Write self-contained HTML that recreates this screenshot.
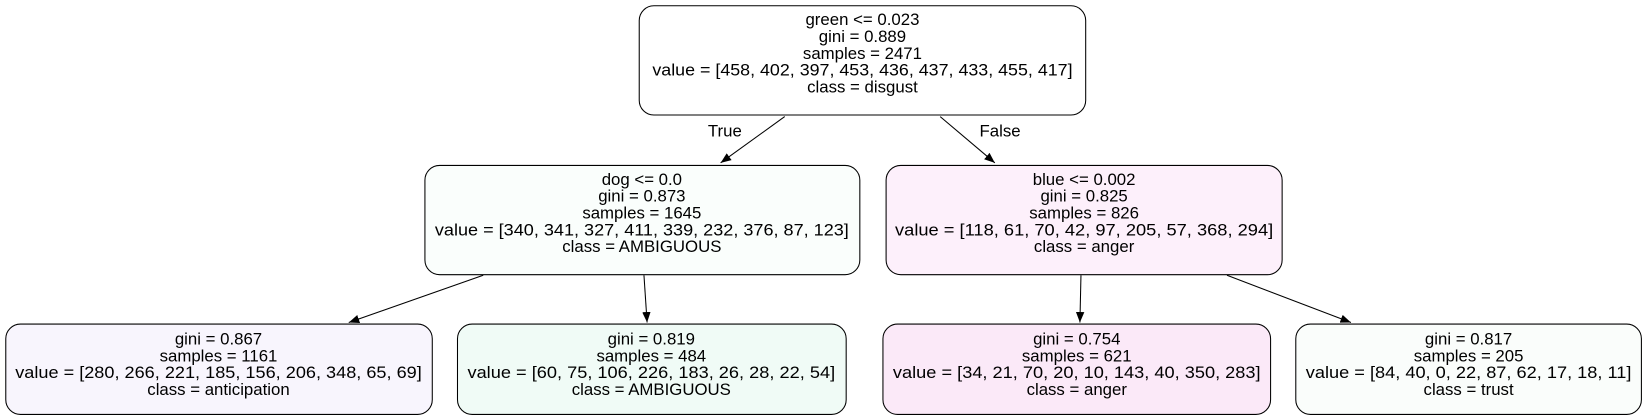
<!DOCTYPE html>
<html><head><meta charset="utf-8"><style>
html,body{margin:0;padding:0;background:#fff;}
svg{display:block;}
text{font-family:"Liberation Sans",Arial,sans-serif;font-size:16px;fill:#000;text-anchor:middle;}
</style></head><body>
<svg width="1644" height="419" viewBox="0 0 1644 419">
<defs><marker id="ah" markerWidth="10" markerHeight="8" refX="10" refY="4" orient="auto" markerUnits="userSpaceOnUse"><path d="M0,0 L10,4 L0,8 z" fill="#000"/></marker></defs>
<g transform="scale(1.0505)">
<g stroke="#000" stroke-width="1" fill="none">
<line x1="747" y1="111" x2="686" y2="155" marker-end="url(#ah)"/>
<line x1="895" y1="111" x2="947" y2="155" marker-end="url(#ah)"/>
<line x1="460" y1="262" x2="332" y2="307" marker-end="url(#ah)"/>
<line x1="613" y1="262" x2="616" y2="307" marker-end="url(#ah)"/>
<line x1="1029" y1="262" x2="1028" y2="307" marker-end="url(#ah)"/>
<line x1="1168" y1="262" x2="1286" y2="307" marker-end="url(#ah)"/>
</g>
<text x="690" y="130">True</text>
<text x="952" y="130">False</text>

<g>
<rect x="608.5" y="5.5" width="425" height="104" rx="14" fill="#ffffff" stroke="#000"/>
<text x="821" y="24">green &lt;= 0.023</text>
<text x="821" y="40">gini = 0.889</text>
<text x="821" y="56">samples = 2471</text>
<text x="821" y="72" textLength="400" lengthAdjust="spacingAndGlyphs">value = [458, 402, 397, 453, 436, 437, 433, 455, 417]</text>
<text x="821" y="88">class = disgust</text>
</g>

<g>
<rect x="404.5" y="157.5" width="414" height="104" rx="14" fill="#fafefc" stroke="#000"/>
<text x="611" y="176">dog &lt;= 0.0</text>
<text x="611" y="192">gini = 0.873</text>
<text x="611" y="208">samples = 1645</text>
<text x="611" y="224" textLength="394" lengthAdjust="spacingAndGlyphs">value = [340, 341, 327, 411, 339, 232, 376, 87, 123]</text>
<text x="611" y="240">class = AMBIGUOUS</text>
</g>

<g>
<rect x="843.5" y="157.5" width="377" height="104" rx="14" fill="#fdf0fb" stroke="#000"/>
<text x="1032" y="176">blue &lt;= 0.002</text>
<text x="1032" y="192">gini = 0.825</text>
<text x="1032" y="208">samples = 826</text>
<text x="1032" y="224" textLength="360" lengthAdjust="spacingAndGlyphs">value = [118, 61, 70, 42, 97, 205, 57, 368, 294]</text>
<text x="1032" y="240">class = anger</text>
</g>

<g>
<rect x="5.5" y="308.5" width="406" height="86" rx="14" fill="#f8f5fd" stroke="#000"/>
<text x="208" y="328">gini = 0.867</text>
<text x="208" y="344">samples = 1161</text>
<text x="208" y="360" textLength="387" lengthAdjust="spacingAndGlyphs">value = [280, 266, 221, 185, 156, 206, 348, 65, 69]</text>
<text x="208" y="376">class = anticipation</text>
</g>

<g>
<rect x="435.5" y="308.5" width="370" height="86" rx="14" fill="#f0fbf6" stroke="#000"/>
<text x="620" y="328">gini = 0.819</text>
<text x="620" y="344">samples = 484</text>
<text x="620" y="360" textLength="350" lengthAdjust="spacingAndGlyphs">value = [60, 75, 106, 226, 183, 26, 28, 22, 54]</text>
<text x="620" y="376">class = AMBIGUOUS</text>
</g>

<g>
<rect x="840.5" y="308.5" width="369" height="86" rx="14" fill="#fbe9f8" stroke="#000"/>
<text x="1025" y="328">gini = 0.754</text>
<text x="1025" y="344">samples = 621</text>
<text x="1025" y="360" textLength="350" lengthAdjust="spacingAndGlyphs">value = [34, 21, 70, 20, 10, 143, 40, 350, 283]</text>
<text x="1025" y="376">class = anger</text>
</g>

<g>
<rect x="1233.5" y="308.5" width="329" height="86" rx="14" fill="#fafdfb" stroke="#000"/>
<text x="1398" y="328">gini = 0.817</text>
<text x="1398" y="344">samples = 205</text>
<text x="1398" y="360" textLength="310" lengthAdjust="spacingAndGlyphs">value = [84, 40, 0, 22, 87, 62, 17, 18, 11]</text>
<text x="1398" y="376">class = trust</text>
</g>
</g>
</svg>
</body></html>
